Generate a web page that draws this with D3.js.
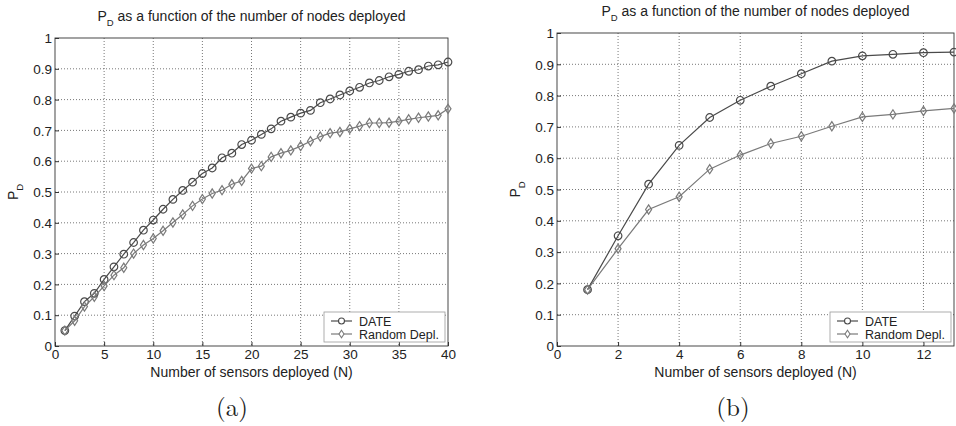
<!DOCTYPE html>
<html>
<head>
<meta charset="utf-8">
<script src="https://cdn.jsdelivr.net/npm/d3@7"></script>
<style>
    body { margin: 0; background: #fff; }
    svg text { font-family: "Liberation Sans", Arial, sans-serif; fill: #222; }
</style>
</head>
<body>
<svg id="chart" width="956" height="426"></svg>
<script>
// Panel (a): 1..40 nodes
const nodesA = d3.range(1, 41);
const dateA = [0.05, 0.097, 0.144, 0.171, 0.216, 0.257, 0.298, 0.336, 0.376, 0.409,
    0.444, 0.476, 0.505, 0.532, 0.56, 0.578, 0.611, 0.626, 0.654, 0.668,
    0.687, 0.705, 0.73, 0.743, 0.756, 0.765, 0.79, 0.802, 0.815, 0.828,
    0.84, 0.854, 0.862, 0.874, 0.882, 0.892, 0.897, 0.909, 0.913, 0.922];
const randomA = [0.05, 0.082, 0.128, 0.16, 0.195, 0.23, 0.254, 0.3, 0.328, 0.349,
    0.374, 0.401, 0.427, 0.455, 0.477, 0.495, 0.506, 0.525, 0.536, 0.576,
    0.584, 0.614, 0.626, 0.635, 0.649, 0.665, 0.68, 0.691, 0.695, 0.705,
    0.714, 0.724, 0.724, 0.725, 0.73, 0.736, 0.741, 0.745, 0.749, 0.77];

// Panel (b): 1..13 nodes
const nodesB = d3.range(1, 14);
const dateB = [0.18, 0.352, 0.517, 0.641, 0.73, 0.785, 0.83, 0.87, 0.91, 0.927, 0.932, 0.937, 0.939];
const randomB = [0.18, 0.311, 0.436, 0.477, 0.565, 0.61, 0.647, 0.67, 0.702, 0.732, 0.74, 0.751, 0.759];

const yTicks = d3.range(0, 11).map((i) => i / 10);
const xTicksA = d3.range(0, 41, 5);
const xTicksB = d3.range(0, 13, 2);

const seriesNames = ["DATE", "Random Depl."];
const seriesColors = ["#4a4a4a", "#7a7a7a"];

const svg = d3.select("#chart");

function drawPanel(opts) {
    const { left, right, top, bottom, xMax, xTicks, nodes, series, caption } = opts;
    const x = d3.scaleLinear().domain([0, xMax]).range([left, right]);
    const y = d3.scaleLinear().domain([0, 1]).range([bottom, top]);
    const g = svg.append("g");

    // Dotted grid
    g.append("g")
        .selectAll("line")
        .data(xTicks.filter((t) => t > 0 && t < xMax))
        .join("line")
        .attr("x1", (d) => x(d)).attr("x2", (d) => x(d))
        .attr("y1", top).attr("y2", bottom)
        .attr("stroke", "#555").attr("stroke-width", 0.8)
        .attr("stroke-dasharray", "1,2");
    g.append("g")
        .selectAll("line")
        .data(yTicks.filter((t) => t > 0 && t < 1))
        .join("line")
        .attr("x1", left).attr("x2", right)
        .attr("y1", (d) => y(d)).attr("y2", (d) => y(d))
        .attr("stroke", "#555").attr("stroke-width", 0.8)
        .attr("stroke-dasharray", "1,2");

    // Axes (MATLAB-like inward ticks)
    const xAxis = g.append("g")
        .attr("transform", `translate(0,${bottom})`)
        .call(d3.axisBottom(x).tickValues(xTicks).tickSizeInner(-4).tickSizeOuter(0).tickPadding(6));
    const yAxis = g.append("g")
        .attr("transform", `translate(${left},0)`)
        .call(d3.axisLeft(y).tickValues(yTicks).tickFormat(d3.format("~g")).tickSizeInner(-4).tickSizeOuter(0).tickPadding(3));
    [xAxis, yAxis].forEach((ax) => {
        ax.select(".domain").remove();
        ax.selectAll("line").attr("stroke", "#333");
        ax.selectAll("text").attr("font-size", 13.5).attr("fill", "#222")
            .attr("font-family", "Liberation Sans, Arial, sans-serif");
    });
    xAxis.selectAll("text").attr("dy", "0.55em");
    yAxis.selectAll("text").attr("dy", "0.35em");

    // Plot box
    g.append("rect")
        .attr("x", left).attr("y", top)
        .attr("width", right - left).attr("height", bottom - top)
        .attr("fill", "none").attr("stroke", "#333").attr("stroke-width", 0.9);

    // Series lines and markers
    const line = d3.line().x((d) => x(d[0])).y((d) => y(d[1]));
    series.forEach((vals, i) => {
        const pts = nodes.map((n, k) => [n, vals[k]]);
        g.append("path")
            .datum(pts)
            .attr("d", line)
            .attr("fill", "none")
            .attr("stroke", seriesColors[i])
            .attr("stroke-width", 1.2);
        const m = g.append("g").selectAll("path").data(pts).join("path")
            .attr("transform", (d) => `translate(${x(d[0])},${y(d[1])})`)
            .attr("fill", "none")
            .attr("stroke", seriesColors[i])
            .attr("stroke-width", 1.2);
        if (i === 0) m.attr("d", "M-3.8,0A3.8,3.8 0 1 0 3.8,0A3.8,3.8 0 1 0 -3.8,0");
        else m.attr("d", "M0,-4.6L3,0L0,4.6L-3,0Z");
    });

    // Legend
    const lx = right - 124, ly = bottom - 34;
    const leg = g.append("g").attr("transform", `translate(${lx},${ly})`);
    leg.append("rect")
        .attr("width", 121).attr("height", 30)
        .attr("fill", "#fff").attr("stroke", "#999").attr("stroke-width", 0.8);
    seriesNames.forEach((name, i) => {
        const cy = 9 + i * 13;
        leg.append("line")
            .attr("x1", 7).attr("x2", 28).attr("y1", cy).attr("y2", cy)
            .attr("stroke", seriesColors[i]).attr("stroke-width", 1.2);
        leg.append("path")
            .attr("transform", `translate(17.5,${cy})`)
            .attr("d", i === 0 ? "M-3,0A3,3 0 1 0 3,0A3,3 0 1 0 -3,0" : "M0,-3.8L2.5,0L0,3.8L-2.5,0Z")
            .attr("fill", "#fff").attr("stroke", seriesColors[i]).attr("stroke-width", 1.1);
        leg.append("text")
            .attr("x", 35).attr("y", cy + 4.5)
            .attr("font-size", 12.5)
            .text(name);
    });

    // Title with subscript
    const cx = (left + right) / 2;
    const title = g.append("text")
        .attr("x", cx).attr("y", top - 17)
        .attr("text-anchor", "middle")
        .attr("font-size", 14);
    title.append("tspan").text("P");
    title.append("tspan").attr("font-size", 9.5).attr("dy", 5).text("D");
    title.append("tspan").attr("dy", -5).text(" as a function of the number of nodes deployed");

    // Axis labels
    g.append("text")
        .attr("x", cx).attr("y", bottom + 31)
        .attr("text-anchor", "middle")
        .attr("font-size", 14)
        .text("Number of sensors deployed (N)");
    const ylab = g.append("text")
        .attr("transform", `translate(${left - 37},${(top + bottom) / 2}) rotate(-90)`)
        .attr("text-anchor", "middle")
        .attr("font-size", 14);
    ylab.append("tspan").text("P");
    ylab.append("tspan").attr("font-size", 9.5).attr("dy", 5).text("D");

    // Caption
    svg.append("text")
        .attr("x", caption.x).attr("y", 416)
        .attr("text-anchor", "middle")
        .style("font-family", "'Latin Modern Roman', 'DejaVu Serif', serif")
        .attr("font-size", 25)
        .text(caption.text);
}

drawPanel({
    left: 55, right: 448, top: 38, bottom: 346,
    xMax: 40, xTicks: xTicksA, nodes: nodesA,
    series: [dateA, randomA],
    caption: { x: 232, text: "(a)" }
});

drawPanel({
    left: 557, right: 954, top: 33, bottom: 346,
    xMax: 13, xTicks: xTicksB, nodes: nodesB,
    series: [dateB, randomB],
    caption: { x: 733, text: "(b)" }
});
</script>
</body>
</html>
